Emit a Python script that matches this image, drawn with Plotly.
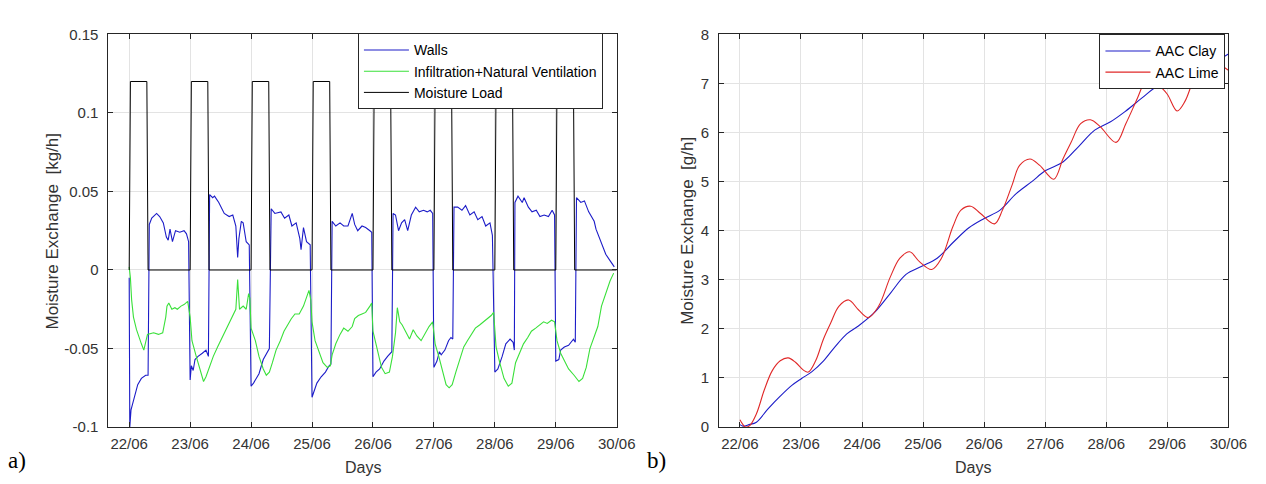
import plotly.graph_objects as go

W, H = 1266, 484

# ---------------- data: panel a) ----------------
day_ticks = [22, 23, 24, 25, 26, 27, 28, 29, 30]
day_labels = ["22/06", "23/06", "24/06", "25/06", "26/06", "27/06", "28/06", "29/06", "30/06"]

pulse_on = [22.0, 23.0, 24.0, 25.0, 26.0, 27.0, 28.0, 29.0]
pulse_off = [22.31, 23.31, 24.31, 25.31, 26.31, 27.31, 28.31, 29.31]
pulse_level = 0.12
load_end = 30.0

walls_t = [22.00, 22.01, 22.03, 22.08, 22.14, 22.20, 22.27, 22.31,
           22.33, 22.37, 22.45, 22.50, 22.56, 22.61, 22.64, 22.67, 22.71, 22.76, 22.83, 22.90, 22.94, 22.975,
           23.00, 23.02, 23.05, 23.08, 23.13, 23.20, 23.26, 23.30,
           23.32, 23.37, 23.40, 23.47, 23.56, 23.64, 23.70, 23.75, 23.78, 23.80, 23.84, 23.87, 23.92, 23.97,
           24.00, 24.04, 24.13, 24.20, 24.26, 24.30,
           24.33, 24.39, 24.49, 24.55, 24.62, 24.67, 24.74, 24.80, 24.82, 24.86, 24.91, 24.97,
           25.00, 25.08, 25.15, 25.22, 25.28, 25.31,
           25.33, 25.39, 25.46, 25.52, 25.59, 25.66, 25.70, 25.75, 25.82, 25.88, 25.95, 25.98,
           26.00, 26.05, 26.11, 26.18, 26.24, 26.31,
           26.33, 26.37, 26.42, 26.47, 26.52, 26.57, 26.63, 26.70, 26.76, 26.83, 26.89, 26.94, 26.98,
           27.00, 27.05, 27.09, 27.12, 27.18, 27.24, 27.28, 27.31,
           27.33, 27.39, 27.46, 27.52, 27.59, 27.66, 27.72, 27.79, 27.85, 27.92, 27.96,
           28.00, 28.05, 28.12, 28.18, 28.25, 28.30, 28.32,
           28.33, 28.38, 28.45, 28.48, 28.55, 28.61, 28.68, 28.74, 28.81, 28.88, 28.94, 28.98,
           29.00, 29.05, 29.08, 29.14, 29.21, 29.25, 29.29, 29.32,
           29.34, 29.41, 29.47, 29.54, 29.63, 29.66, 29.72, 29.76, 29.82, 29.89, 29.96]
walls_v = [-0.005, -0.100, -0.089, -0.082, -0.073, -0.069, -0.067, -0.067,
           0.029, 0.033, 0.036, 0.034, 0.030, 0.021, 0.019, 0.026, 0.018, 0.025, 0.024, 0.025, 0.023, 0.018,
           -0.070, -0.061, -0.064, -0.057, -0.055, -0.053, -0.051, -0.055,
           0.048, 0.046, 0.047, 0.043, 0.036, 0.034, 0.035, 0.028, 0.008, 0.020, 0.031, 0.030, 0.018, 0.016,
           -0.074, -0.072, -0.066, -0.057, -0.053, -0.050,
           0.039, 0.036, 0.037, 0.033, 0.035, 0.028, 0.030, 0.020, 0.013, 0.027, 0.018, 0.016,
           -0.081, -0.072, -0.068, -0.065, -0.061, -0.060,
           0.031, 0.028, 0.030, 0.028, 0.028, 0.036, 0.029, 0.025, 0.028, 0.027, 0.025, 0.024,
           -0.068, -0.065, -0.063, -0.058, -0.055, -0.052,
           0.036, 0.035, 0.025, 0.030, 0.032, 0.025, 0.035, 0.040, 0.037, 0.038, 0.037, 0.038, 0.036,
           -0.062, -0.058, -0.052, -0.054, -0.051, -0.045, -0.043, -0.044,
           0.040, 0.040, 0.038, 0.041, 0.035, 0.037, 0.032, 0.034, 0.028, 0.030, 0.022,
           -0.065, -0.063, -0.055, -0.047, -0.044, -0.046, -0.051,
           0.043, 0.047, 0.043, 0.046, 0.040, 0.037, 0.038, 0.034, 0.035, 0.034, 0.038, 0.035,
           -0.058, -0.057, -0.051, -0.049, -0.048, -0.046, -0.044, -0.046,
           0.046, 0.043, 0.044, 0.037, 0.031, 0.026, 0.020, 0.017, 0.010, 0.006, 0.002]

vent_t = [22.00, 22.02, 22.04, 22.07, 22.12, 22.16, 22.20, 22.24, 22.28, 22.30, 22.40, 22.48, 22.55,
          22.60, 22.62, 22.65, 22.70, 22.75, 22.79, 22.85, 22.90, 22.96,
          23.00, 23.03, 23.10, 23.16, 23.22, 23.26, 23.32, 23.38, 23.45, 23.55, 23.63, 23.70, 23.75,
          23.78, 23.81, 23.87, 23.92, 23.96, 23.98,
          24.00, 24.07, 24.13, 24.20, 24.25, 24.30, 24.35, 24.41, 24.48, 24.54, 24.60, 24.66, 24.72,
          24.79, 24.86, 24.92, 24.95, 24.98,
          25.00, 25.05, 25.12, 25.18, 25.25, 25.30, 25.33, 25.39, 25.46, 25.52, 25.59, 25.66, 25.70,
          25.76, 25.82, 25.88, 25.95, 25.98,
          26.00, 26.07, 26.14, 26.20, 26.27, 26.32, 26.37, 26.40, 26.44, 26.48, 26.54, 26.60, 26.66,
          26.72, 26.79, 26.86, 26.92, 26.98,
          27.02, 27.08, 27.14, 27.20, 27.25, 27.30, 27.36, 27.42, 27.49, 27.55, 27.62, 27.68, 27.75,
          27.81, 27.88, 27.94, 27.98,
          28.02, 28.08, 28.15, 28.22, 28.28, 28.34, 28.41, 28.47, 28.54, 28.60, 28.67, 28.73, 28.80,
          28.86, 28.93, 28.98,
          29.02, 29.08, 29.15, 29.21, 29.30, 29.38, 29.44, 29.50, 29.56, 29.63, 29.69, 29.75, 29.82,
          29.89, 29.95]
vent_v = [0.002, -0.005, -0.019, -0.030, -0.038, -0.043, -0.047, -0.051, -0.045, -0.041, -0.040, -0.041, -0.040,
          -0.030, -0.023, -0.021, -0.025, -0.024, -0.025, -0.023, -0.022, -0.020,
          -0.030, -0.045, -0.055, -0.063, -0.071, -0.068, -0.061, -0.055, -0.049, -0.041, -0.035, -0.030, -0.025,
          -0.006, -0.025, -0.023, -0.025, -0.015, -0.018,
          -0.037, -0.045, -0.055, -0.063, -0.067, -0.065, -0.059, -0.051, -0.045, -0.039, -0.035, -0.031, -0.028,
          -0.028, -0.023, -0.017, -0.013, -0.019,
          -0.033, -0.045, -0.053, -0.059, -0.062, -0.061, -0.054, -0.047, -0.041, -0.037, -0.039, -0.036, -0.031,
          -0.029, -0.028, -0.027, -0.023, -0.021,
          -0.039, -0.050, -0.062, -0.066, -0.065, -0.055, -0.040, -0.024, -0.033, -0.035, -0.040, -0.044, -0.038,
          -0.042, -0.045, -0.040, -0.036, -0.033,
          -0.047, -0.055, -0.065, -0.073, -0.075, -0.073, -0.065, -0.057, -0.049, -0.045, -0.041, -0.037, -0.035,
          -0.033, -0.031, -0.029, -0.027,
          -0.049, -0.059, -0.069, -0.074, -0.072, -0.059, -0.053, -0.047, -0.043, -0.039, -0.037, -0.035, -0.033,
          -0.034, -0.032, -0.033,
          -0.045, -0.053, -0.059, -0.063, -0.067, -0.071, -0.069, -0.062, -0.050, -0.043, -0.036, -0.023, -0.015,
          -0.007, -0.002]

# ---------------- data: panel b) ----------------
clay_t = [22.00, 22.05, 22.15, 22.27, 22.46, 22.66, 22.85, 23.01, 23.17, 23.37, 23.56, 23.75, 23.94,
          24.20, 24.46, 24.72, 24.97, 25.23, 25.49, 25.75, 26.00, 26.26, 26.52, 26.78, 27.00, 27.29,
          27.55, 27.81, 28.07, 28.32, 28.58, 28.84, 29.05, 29.30, 29.55, 29.77, 30.00]
clay_v = [0.05, 0.02, 0.05, 0.10, 0.37, 0.63, 0.85, 0.99, 1.12, 1.35, 1.64, 1.90, 2.06,
          2.33, 2.72, 3.11, 3.27, 3.44, 3.76, 4.06, 4.25, 4.42, 4.75, 5.00, 5.22, 5.40,
          5.72, 6.05, 6.22, 6.44, 6.70, 6.95, 7.03, 7.15, 7.28, 7.43, 7.60]

lime_t = [22.00, 22.05, 22.09, 22.16, 22.27, 22.40, 22.53, 22.66, 22.79, 22.91, 23.04, 23.12, 23.24,
          23.37, 23.49, 23.62, 23.78, 23.94, 24.10, 24.27, 24.46, 24.62, 24.78, 24.94, 25.14, 25.30,
          25.49, 25.62, 25.78, 25.94, 26.17, 26.30, 26.46, 26.58, 26.75, 26.91, 27.14, 27.29, 27.42,
          27.58, 27.74, 27.90, 28.16, 28.32, 28.51, 28.64, 28.74, 28.86, 29.00, 29.16, 29.29, 29.42,
          29.60, 29.72, 29.85, 30.00]
lime_v = [0.15, 0.05, 0.00, 0.03, 0.27, 0.76, 1.15, 1.35, 1.41, 1.32, 1.16, 1.12, 1.35,
          1.80, 2.13, 2.46, 2.59, 2.39, 2.23, 2.46, 3.05, 3.44, 3.57, 3.37, 3.21, 3.44,
          4.09, 4.42, 4.50, 4.35, 4.14, 4.42, 4.94, 5.33, 5.46, 5.33, 5.05, 5.46, 5.79,
          6.18, 6.26, 6.12, 5.80, 6.18, 6.70, 7.05, 7.12, 6.97, 6.78, 6.44, 6.64, 7.05,
          7.50, 7.52, 7.40, 7.27]

a_yticks = [-0.1, -0.05, 0, 0.05, 0.1, 0.15]
a_yticklabels = ["-0.1", "-0.05", "0", "0.05", "0.1", "0.15"]
b_yticks = [0, 1, 2, 3, 4, 5, 6, 7, 8]

# build the moisture-load step curve from the pulse lists
load_t, load_v = [], []
ramp = 0.02
for on, off in zip(pulse_on, pulse_off):
    load_t += [on, on + ramp, off - ramp, off]
    load_v += [0, pulse_level, pulse_level, 0]
load_t.append(load_end)
load_v.append(0)

# ---------------- figure ----------------
BLUE = "#1c1cc8"
GREEN = "#3ae03a"
RED = "#e02828"
BLACK = "#000000"

fig = go.Figure()
fig.add_trace(go.Scatter(x=walls_t, y=walls_v, mode="lines", name="Walls",
                         line=dict(color=BLUE, width=1.1), xaxis="x", yaxis="y", legend="legend"))
fig.add_trace(go.Scatter(x=vent_t, y=vent_v, mode="lines", name="Infiltration+Natural Ventilation",
                         line=dict(color=GREEN, width=1.1), xaxis="x", yaxis="y", legend="legend"))
fig.add_trace(go.Scatter(x=load_t, y=load_v, mode="lines", name="Moisture Load",
                         line=dict(color=BLACK, width=1.0), xaxis="x", yaxis="y", legend="legend"))

fig.add_trace(go.Scatter(x=clay_t, y=clay_v, mode="lines", name="AAC Clay",
                         line=dict(color=BLUE, width=1.1, shape="spline", smoothing=1.0),
                         xaxis="x2", yaxis="y2", legend="legend2"))
fig.add_trace(go.Scatter(x=lime_t, y=lime_v, mode="lines", name="AAC Lime",
                         line=dict(color=RED, width=1.1, shape="spline", smoothing=1.0),
                         xaxis="x2", yaxis="y2", legend="legend2"))

TICKFONT = dict(family="Liberation Sans, Arial, sans-serif", size=15, color="#333333")
AX = dict(showline=True, linecolor="#262626", linewidth=1, mirror="ticks",
          ticks="inside", ticklen=5, tickcolor="#262626", tickwidth=1,
          showgrid=True, gridcolor="#e3e3e3", gridwidth=1, zeroline=False,
          tickfont=TICKFONT)

LEGFONT = dict(family="Liberation Sans, Arial, sans-serif", size=14, color="#000000")
y_dom = [1 - 425 / H, 1 - 18 / H]
fig.update_layout(
    width=W, height=H,
    margin=dict(l=0, r=0, t=0, b=0),
    paper_bgcolor="white", plot_bgcolor="white",
    xaxis=dict(domain=[102 / W, 618 / W], range=[21.66, 30.0],
               tickvals=day_ticks, ticktext=day_labels, ticklabelstandoff=3, **AX),
    yaxis=dict(domain=y_dom, range=[-0.1, 0.15],
               tickvals=a_yticks, ticktext=a_yticklabels, ticklabelstandoff=6, **AX),
    xaxis2=dict(domain=[722 / W, 1239 / W], range=[21.66, 30.0], anchor="y2",
                tickvals=day_ticks, ticktext=day_labels, ticklabelstandoff=3, **AX),
    yaxis2=dict(domain=y_dom, range=[0, 8], anchor="x2",
                tickvals=b_yticks, ticklabelstandoff=6, **AX),
    legend=dict(x=604 / W, y=1 - 17 / H, xanchor="right", yanchor="top",
                bgcolor="white", bordercolor="#262626", borderwidth=1,
                font=LEGFONT, tracegroupgap=0, itemwidth=45),
    legend2=dict(x=1236 / W, y=1 - 18 / H, xanchor="right", yanchor="top",
                 bgcolor="white", bordercolor="#262626", borderwidth=1,
                 font=LEGFONT, tracegroupgap=0, itemwidth=45),
    showlegend=True,
)

YTITLEFONT = dict(family="Liberation Sans, Arial, sans-serif", size=17, color="#333333")
XTITLEFONT = dict(family="Liberation Sans, Arial, sans-serif", size=16, color="#333333")
SERIF = dict(family="Liberation Serif, Times New Roman, serif", size=23, color="#000000")
ann = [
    dict(text="Moisture Exchange  [kg/h]", x=45 / W, y=1 - 222 / H, textangle=-90, font=YTITLEFONT),
    dict(text="Moisture Exchange  [g/h]", x=690 / W, y=1 - 222 / H, textangle=-90, font=YTITLEFONT),
    dict(text="Days", x=360 / W, y=1 - 467 / H, font=XTITLEFONT),
    dict(text="Days", x=980 / W, y=1 - 467 / H, font=XTITLEFONT),
    dict(text="a)", x=-2 / W, y=1 - 460 / H, xanchor="left", font=SERIF),
    dict(text="b)", x=647 / W, y=1 - 460 / H, xanchor="left", font=SERIF),
]
for a in ann:
    a.setdefault("xanchor", "center")
    a.update(xref="paper", yref="paper", yanchor="middle", showarrow=False)
fig.update_layout(annotations=ann)

fig.write_html("out.html")
